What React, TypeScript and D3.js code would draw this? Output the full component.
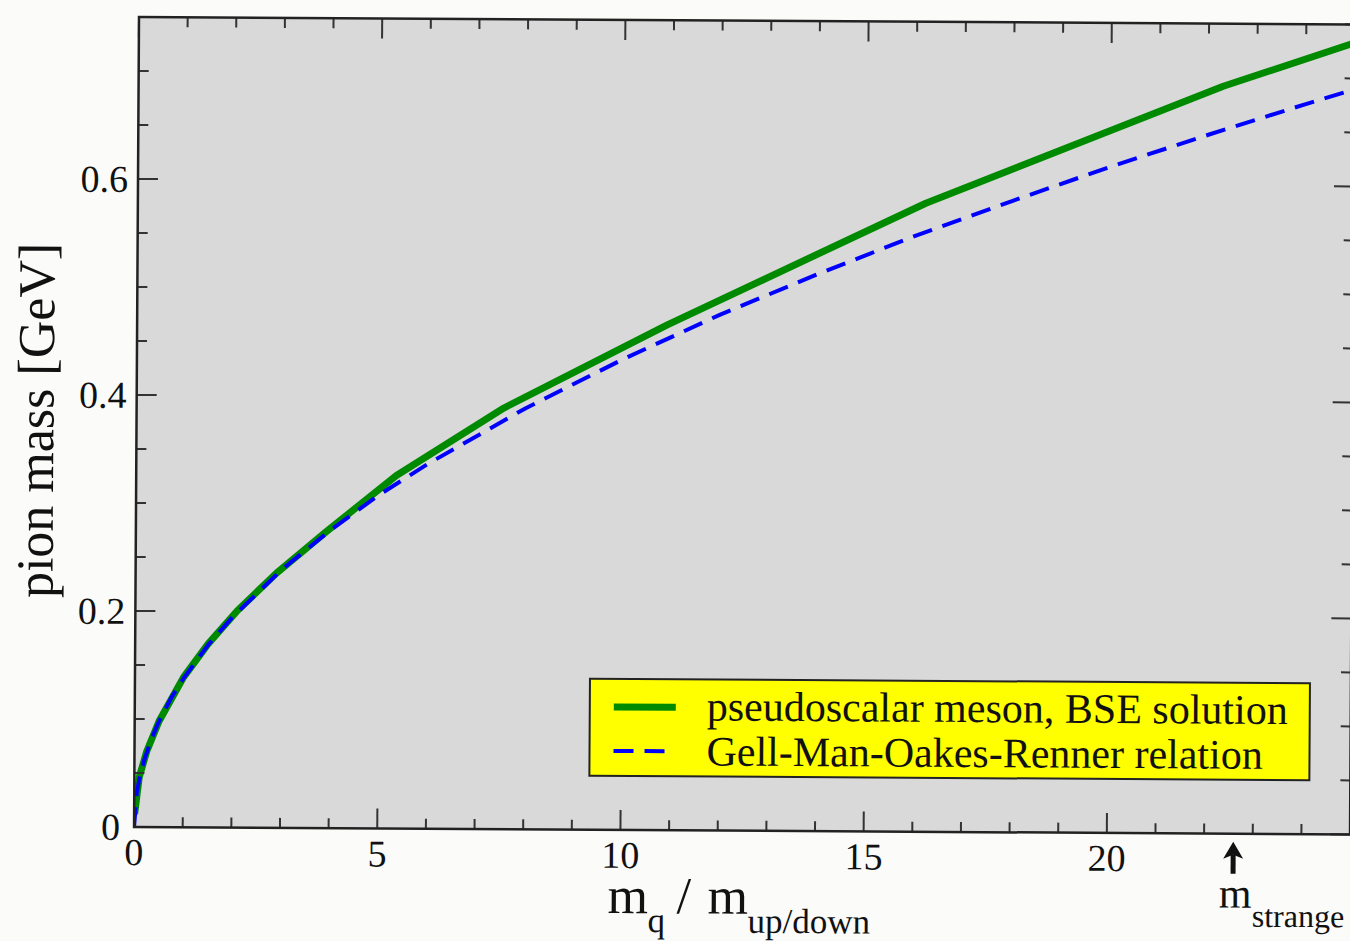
import React from "react";
import * as d3 from "d3";

// ---- data ----
const bseX = [0.01, 0.1, 0.25, 0.5, 1.0, 1.5, 2.1, 2.9, 3.9, 5.35, 7.55, 10.9, 16.2, 22.3, 25];
const bseY = [0.012, 0.046, 0.07, 0.098, 0.139, 0.17, 0.201, 0.236, 0.274, 0.327, 0.39, 0.468, 0.582, 0.692, 0.733];

const gmorX = [0, 0.05, 0.1, 0.2, 0.35, 0.5, 0.75, 1, 1.5, 2, 3, 4, 5, 6, 8, 10, 12, 14, 16, 18, 20, 22, 24, 25];
const gmorY = [0, 0.031, 0.044, 0.062, 0.082, 0.098, 0.12, 0.138, 0.169, 0.195, 0.239, 0.276, 0.309, 0.338, 0.39, 0.436, 0.478, 0.516, 0.552, 0.585, 0.617, 0.647, 0.676, 0.69];

const xMajorTicks = [0, 5, 10, 15, 20];
const xTickLabels = ["0", "5", "10", "15", "20"];
const yMajorTicks = [0, 0.2, 0.4, 0.6];
const yTickLabels = ["0", "0.2", "0.4", "0.6"];
const xDomain = [0, 25];
const yDomain = [0, 0.75];
const mStrangeRatio = 22.6;
const legendLabels = ["pseudoscalar meson, BSE solution", "Gell-Man-Oakes-Renner relation"];

// ---- layout ----
const W = 1350;
const H = 941;
const L = 139;
const T = 17;
const PW = 1216;
const PH = 810;
const FONT = "'Liberation Serif', 'DejaVu Serif', serif";

export default function App() {
  const x = d3.scaleLinear().domain(xDomain).range([L, L + PW]);
  const y = d3.scaleLinear().domain(yDomain).range([T + PH, T]);
  const line = d3
    .line<[number, number]>()
    .x((d) => x(d[0]))
    .y((d) => y(d[1]));
  const bse = bseX.map((v, i) => [v, bseY[i]] as [number, number]);
  const gmor = gmorX.map((v, i) => [v, gmorY[i]] as [number, number]);

  const xMinor = d3.range(xDomain[0], xDomain[1] + 0.001, 1).filter((v) => v % 5 !== 0);
  const yMinor = d3.range(0, 0.7501, 0.05).filter((v) => Math.abs(v / 0.2 - Math.round(v / 0.2)) > 1e-6);

  const tickColor = "#333";
  const major = 20;
  const minor = 10;

  const legX = 594;
  const legY = 676;
  const legW = 720;
  const legH = 97;

  const ms = x(mStrangeRatio);

  return (
    <svg
      width={W}
      height={H}
      style={{ position: "absolute", left: 0, top: 0, display: "block" }}
      fontFamily={FONT}
    >
      <rect x={0} y={0} width={W} height={H} fill="#fbfbf9" />
      <defs>
        <clipPath id="plotclip">
          <rect x={L} y={T} width={PW} height={PH} />
        </clipPath>
      </defs>
      <g transform={`rotate(0.35, ${L}, ${T})`}>
        <rect x={L} y={T} width={PW} height={PH} fill="#d9d9d9" />

        {/* curves */}
        <g clipPath="url(#plotclip)">
          <path d={line(bse) || ""} fill="none" stroke="#008a00" strokeWidth={7} strokeLinejoin="round" />
          <path
            d={line(gmor) || ""}
            fill="none"
            stroke="#0000ff"
            strokeWidth={4}
            strokeDasharray="20 11"
            strokeLinejoin="round"
          />
        </g>

        {/* ticks bottom/top */}
        {xMajorTicks.map((v) => (
          <g key={"xM" + v}>
            <line x1={x(v)} x2={x(v)} y1={T + PH} y2={T + PH - major} stroke={tickColor} strokeWidth={2} />
            <line x1={x(v)} x2={x(v)} y1={T} y2={T + major} stroke={tickColor} strokeWidth={2} />
          </g>
        ))}
        {xMinor.map((v) => (
          <g key={"xm" + v}>
            <line x1={x(v)} x2={x(v)} y1={T + PH} y2={T + PH - minor} stroke={tickColor} strokeWidth={2} />
            <line x1={x(v)} x2={x(v)} y1={T} y2={T + minor} stroke={tickColor} strokeWidth={2} />
          </g>
        ))}
        {/* ticks left/right */}
        {yMajorTicks.map((v) => (
          <g key={"yM" + v}>
            <line x1={L} x2={L + major} y1={y(v)} y2={y(v)} stroke={tickColor} strokeWidth={2} />
            <line x1={L + PW} x2={L + PW - major} y1={y(v)} y2={y(v)} stroke={tickColor} strokeWidth={2} />
          </g>
        ))}
        {yMinor.map((v) => (
          <g key={"ym" + v}>
            <line x1={L} x2={L + minor} y1={y(v)} y2={y(v)} stroke={tickColor} strokeWidth={2} />
            <line x1={L + PW} x2={L + PW - minor} y1={y(v)} y2={y(v)} stroke={tickColor} strokeWidth={2} />
          </g>
        ))}

        {/* frame */}
        <rect x={L} y={T} width={PW} height={PH} fill="none" stroke="#222" strokeWidth={2.5} />

        {/* tick labels */}
        {xMajorTicks.map((v, i) => (
          <text key={"xl" + v} x={x(v)} y={T + PH + 38} textAnchor="middle" fontSize={38} fill="#111">
            {xTickLabels[i]}
          </text>
        ))}
        {yMajorTicks.map((v, i) => (
          <text
            key={"yl" + v}
            x={L - (v === 0 ? 14 : 10)}
            y={y(v) + 13}
            textAnchor="end"
            fontSize={38}
            fill="#111"
          >
            {yTickLabels[i]}
          </text>
        ))}

        {/* axis titles */}
        <text x={56} y={421} transform="rotate(-90, 56, 421)" textAnchor="middle" fontSize={52} fill="#111">
          pion mass [GeV]
        </text>
        <g fill="#111">
          <text x={613} y={910} fontSize={52}>m</text>
          <text x={653} y={929} fontSize={35}>q</text>
          <text x={682} y={910} fontSize={52}>/</text>
          <text x={713} y={910} fontSize={52}>m</text>
          <text x={753} y={929} fontSize={35}>up/down</text>
        </g>

        {/* m strange marker */}
        <g fill="#111">
          <line x1={ms} x2={ms} y1={848} y2={867} stroke="#111" strokeWidth={5} />
          <path d={`M${ms},835 L${ms - 10},852 L${ms},848 L${ms + 10},852 Z`} fill="#111" />
          <text x={ms - 14} y={901} fontSize={42}>m</text>
          <text x={ms + 19} y={920} fontSize={32}>strange</text>
        </g>

        {/* legend */}
        <rect x={legX} y={legY} width={legW} height={legH} fill="#ffff00" stroke="#222" strokeWidth={2} />
        <line x1={legX + 24} x2={legX + 86} y1={legY + 28} y2={legY + 28} stroke="#008a00" strokeWidth={7} />
        <line
          x1={legX + 24}
          x2={legX + 80}
          y1={legY + 72}
          y2={legY + 72}
          stroke="#0000ff"
          strokeWidth={4}
          strokeDasharray="20 11"
        />
        <text x={legX + 117} y={legY + 41} fontSize={42} fill="#111">
          {legendLabels[0]}
        </text>
        <text x={legX + 117} y={legY + 86} fontSize={42} fill="#111">
          {legendLabels[1]}
        </text>
      </g>
    </svg>
  );
}
